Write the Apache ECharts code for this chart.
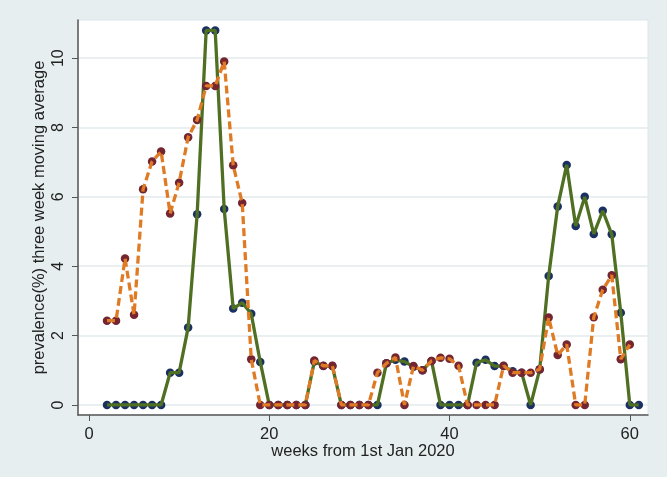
<!DOCTYPE html>
<html>
<head>
<meta charset="utf-8">
<script src="https://cdn.jsdelivr.net/npm/echarts@6/dist/echarts.min.js"></script>
<style>
  html, body { margin: 0; padding: 0; background: #e6eef0; }
  #chart { width: 667px; height: 477px; }
</style>
</head>
<body>
<div id="chart"></div>
<script>
// weeks from 1st Jan 2020
const weeks = [2, 3, 4, 5, 6, 7, 8, 9, 10, 11, 12, 13, 14, 15, 16, 17, 18, 19, 20, 21,
  22, 23, 24, 25, 26, 27, 28, 29, 30, 31, 32, 33, 34, 35, 36, 37, 38, 39, 40, 41,
  42, 43, 44, 45, 46, 47, 48, 49, 50, 51, 52, 53, 54, 55, 56, 57, 58, 59, 60, 61];

// solid green series
const greenValues = [0, 0, 0, 0, 0, 0, 0, 0.93, 0.93, 2.23, 5.5, 10.8, 10.8, 5.65, 2.78, 2.95, 2.63, 1.24, 0, 0,
  0, 0, 0, 1.25, 1.12, 1.12, 0, 0, 0, 0, 0, 1.2, 1.3, 1.25, 1.1, 1.0, 1.27, 0, 0, 0,
  0, 1.22, 1.3, 1.12, 1.12, 0.97, 0.93, 0, 1.02, 3.72, 5.72, 6.92, 5.16, 6.0, 4.93, 5.6, 4.92, 2.66, 0, 0];

// dashed orange series
const orangeValues = [2.43, 2.43, 4.22, 2.6, 6.22, 7.02, 7.31, 5.52, 6.41, 7.72, 8.22, 9.2, 9.2, 9.9, 6.91, 5.82, 1.32, 0, 0, 0,
  0, 0, 0, 1.28, 1.13, 1.13, 0, 0, 0, 0, 0.93, 1.2, 1.37, 0, 1.12, 1.0, 1.27, 1.36, 1.33, 1.13,
  0, 0, 0, 0, 1.13, 0.93, 0.93, 0.93, 1.03, 2.52, 1.44, 1.74, 0, 0, 2.53, 3.32, 3.74, 1.32, 1.74, null];

const xTicks = [0, 20, 40, 60];
const yTicks = [0, 2, 4, 6, 8, 10];

const color = {
  green: "#4f6f22",
  navy: "#1a2f62",
  orange: "#e07b25",
  maroon: "#742530",
  text: "#222",
  axis: "#555",
  grid: "#e3eaee",
};

const font = "'Liberation Sans', Arial, sans-serif";

function pairs(values) {
  return weeks.map((w, i) => [w, values[i]]).filter((p) => p[1] !== null);
}

const chart = echarts.init(document.getElementById("chart"), null, { renderer: "canvas" });

chart.setOption({
  animation: false,
  backgroundColor: "#e6eef0",
  grid: {
    left: 78,
    right: 19,
    top: 20,
    bottom: 62,
    show: true,
    backgroundColor: "#fff",
    borderColor: "#dde6e9",
    borderWidth: 1,
  },
  xAxis: {
    type: "value",
    min: -1.22,
    max: 62.02,
    name: "weeks from 1st Jan 2020",
    nameLocation: "middle",
    nameGap: 28,
    nameMoveOverlap: false,
    nameTextStyle: { color: color.text, fontSize: 16.5, fontFamily: font },
    axisLine: { show: true, onZero: false, lineStyle: { color: color.axis, width: 1.5 } },
    axisTick: { show: true, length: 6, customValues: xTicks, lineStyle: { color: color.axis } },
    axisLabel: { customValues: xTicks, margin: 11, color: color.text, fontSize: 16.5, fontFamily: font },
    splitLine: { show: false },
  },
  yAxis: {
    type: "value",
    min: -0.29,
    max: 11.1,
    name: "prevalence(%) three week moving average",
    nameLocation: "middle",
    nameGap: 30,
    nameMoveOverlap: false,
    nameTextStyle: { color: color.text, fontSize: 16.5, fontFamily: font },
    axisLine: { show: true, onZero: false, lineStyle: { color: color.axis, width: 1.5 } },
    axisTick: { show: true, length: 6, customValues: yTicks, lineStyle: { color: color.axis } },
    axisLabel: { customValues: yTicks, rotate: 90, margin: 11, color: color.text, fontSize: 16, fontFamily: font },
    splitLine: { show: true, lineStyle: { color: color.grid, width: 1.5 } },
  },
  series: [
    {
      type: "scatter",
      name: "greenMarkers",
      z: 2,
      data: pairs(greenValues),
      symbolSize: 8.5,
      itemStyle: { color: color.navy, opacity: 1 },
    },
    {
      type: "line",
      name: "green",
      z: 3,
      data: pairs(greenValues),
      showSymbol: false,
      lineStyle: { color: color.green, width: 3.3 },
    },
    {
      type: "scatter",
      name: "orangeMarkers",
      z: 4,
      data: pairs(orangeValues),
      symbolSize: 8.5,
      itemStyle: { color: color.maroon, opacity: 1 },
    },
    {
      type: "line",
      name: "orange",
      z: 5,
      data: pairs(orangeValues),
      showSymbol: false,
      lineStyle: { color: color.orange, width: 3.3, type: [8, 4] },
    },
  ],
});
</script>
</body>
</html>
